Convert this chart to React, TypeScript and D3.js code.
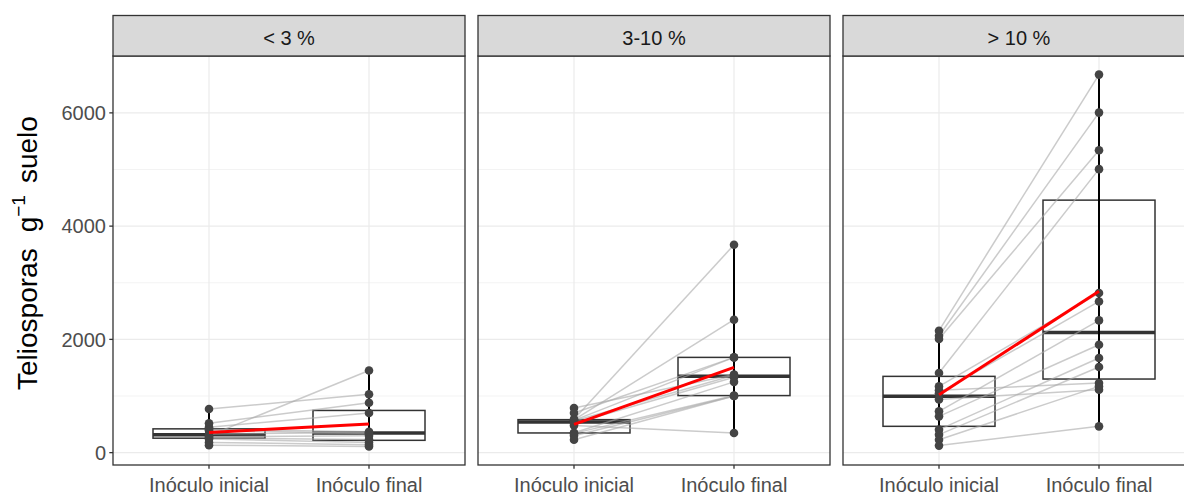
import React from "react";
import * as d3 from "d3";

const categories = ["Inóculo inicial", "Inóculo final"];
const facetLabels = ["< 3 %", "3-10 %", "> 10 %"];

const inicialLow = [770, 520, 450, 410, 390, 330, 300, 280, 260, 240, 180, 130];
const finalLow = [1030, 880, 700, 370, 340, 355, 1450, 300, 230, 180, 140, 110];

const inicialMid = [788, 700, 590, 580, 570, 560, 520, 480, 350, 340, 300, 229];
const finalMid = [1380, 1682, 3670, 2347, 1682, 1365, 1330, 347, 1250, 1010, 1000, 1000];

const inicialHigh = [2153, 2065, 2006, 1406, 1170, 1100, 1050, 940, 729, 641, 406, 318, 229, 124];
const finalHigh = [6676, 6005, 5341, 5006, 2818, 1229, 2670, 1112, 2335, 1906, 1671, 1512, 1170, 464];

const yTicks = [0, 2000, 4000, 6000];
const yMinor = [1000, 3000, 5000];

const facets = [
  { label: facetLabels[0], ini: inicialLow, fin: finalLow },
  { label: facetLabels[1], ini: inicialMid, fin: finalMid },
  { label: facetLabels[2], ini: inicialHigh, fin: finalHigh },
];

const W = 1184;
const H = 495;
const panelLefts = [113, 478, 843];
const panelW = 352;
const stripTop = 15.5;
const panelTop = 56;
const panelBottom = 465;

function boxStats(vals: number[]) {
  const s = [...vals].sort(d3.ascending);
  return {
    q1: d3.quantile(s, 0.25)!,
    med: d3.quantile(s, 0.5)!,
    q3: d3.quantile(s, 0.75)!,
    min: s[0],
    max: s[s.length - 1],
    mean: d3.mean(s)!,
  };
}

export default function App() {
  const all = facets.flatMap((f) => [...f.ini, ...f.fin]);
  const lo = d3.min(all)!;
  const hi = d3.max(all)!;
  const pad = (hi - lo) * 0.05;
  const y = d3.scaleLinear().domain([lo - pad, hi + pad]).range([panelBottom, panelTop]);
  const font = "Liberation Sans, Arial, Helvetica, sans-serif";

  return (
    <svg
      width={W}
      height={H}
      style={{ position: "absolute", left: 0, top: 0, background: "#fff" }}
      fontFamily={font}
    >
      <rect x={0} y={0} width={W} height={H} fill="#fff" />
      {facets.map((f, fi) => {
        const left = panelLefts[fi];
        const x = d3.scalePoint<string>().domain(categories).range([left + panelW * (0.6 / 2.2), left + panelW * (1.6 / 2.2)]);
        const xi = x(categories[0])!;
        const xf = x(categories[1])!;
        const unit = xf - xi;
        const bw = unit * 0.7;
        const stats = [boxStats(f.ini), boxStats(f.fin)];
        const xs = [xi, xf];
        return (
          <g key={fi}>
            <defs>
              <clipPath id={`clip${fi}`}>
                <rect x={left} y={panelTop} width={panelW} height={panelBottom - panelTop} />
              </clipPath>
            </defs>
            {yMinor.map((t) => (
              <line key={"mi" + t} x1={left} x2={left + panelW} y1={y(t)} y2={y(t)} stroke="#EBEBEB" strokeWidth={0.6} />
            ))}
            {yTicks.map((t) => (
              <line key={"ma" + t} x1={left} x2={left + panelW} y1={y(t)} y2={y(t)} stroke="#EBEBEB" strokeWidth={1.2} />
            ))}
            {xs.map((xx, i) => (
              <line key={"vx" + i} x1={xx} x2={xx} y1={panelTop} y2={panelBottom} stroke="#EBEBEB" strokeWidth={1.2} />
            ))}
            <g clipPath={`url(#clip${fi})`}>
              {stats.map((s, i) => (
                <g key={"b" + i}>
                  <rect x={xs[i] - bw / 2} y={y(s.q3)} width={bw} height={y(s.q1) - y(s.q3)} fill="none" stroke="#333333" strokeWidth={1.5} />
                  <line x1={xs[i] - bw / 2} x2={xs[i] + bw / 2} y1={y(s.med)} y2={y(s.med)} stroke="#333333" strokeWidth={3.5} />
                </g>
              ))}
              {f.ini.map((v, i) => (
                <line key={"p" + i} x1={xi} x2={xf} y1={y(v)} y2={y(f.fin[i])} stroke="#a8a8a8" strokeOpacity={0.6} strokeWidth={1.5} />
              ))}
              {stats.map((s, i) => (
                <line key={"r" + i} x1={xs[i]} x2={xs[i]} y1={y(s.min)} y2={y(s.max)} stroke="#000" strokeWidth={2} />
              ))}
              {f.ini.map((v, i) => (
                <circle key={"ci" + i} cx={xi} cy={y(v)} r={4.3} fill="#444444" />
              ))}
              {f.fin.map((v, i) => (
                <circle key={"cf" + i} cx={xf} cy={y(v)} r={4.3} fill="#444444" />
              ))}
              <line x1={xi} x2={xf} y1={y(stats[0].mean)} y2={y(stats[1].mean)} stroke="#ff0000" strokeWidth={3} />
            </g>
            <rect x={left} y={panelTop} width={panelW} height={panelBottom - panelTop} fill="none" stroke="#333333" strokeWidth={1.3} />
            <rect x={left} y={stripTop} width={panelW} height={panelTop - stripTop} fill="#D9D9D9" stroke="#333333" strokeWidth={1.3} />
            <text x={left + panelW / 2} y={45} textAnchor="middle" fontSize={20} fill="#1A1A1A">
              {f.label}
            </text>
            {xs.map((xx, i) => (
              <g key={"xt" + i}>
                <line x1={xx} x2={xx} y1={panelBottom} y2={panelBottom + 3.7} stroke="#333333" strokeWidth={1.3} />
                <text x={xx} y={492} textAnchor="middle" fontSize={20} fill="#4D4D4D">
                  {categories[i]}
                </text>
              </g>
            ))}
          </g>
        );
      })}
      {yTicks.map((t) => (
        <g key={"yt" + t}>
          <line x1={panelLefts[0] - 3.7} x2={panelLefts[0]} y1={y(t)} y2={y(t)} stroke="#333333" strokeWidth={1.3} />
          <text x={panelLefts[0] - 7} y={y(t)} dy="0.36em" textAnchor="end" fontSize={20} fill="#4D4D4D">
            {t}
          </text>
        </g>
      ))}
      <text transform={`translate(37, 390) rotate(-90)`} textAnchor="start" fontSize={28} fill="#000">
        <tspan>Teliosporas</tspan>
        <tspan dx={16}>g</tspan>
        <tspan dy={-12} fontSize={19}>−1</tspan>
        <tspan dy={12} dx={12}>suelo</tspan>
      </text>
    </svg>
  );
}
